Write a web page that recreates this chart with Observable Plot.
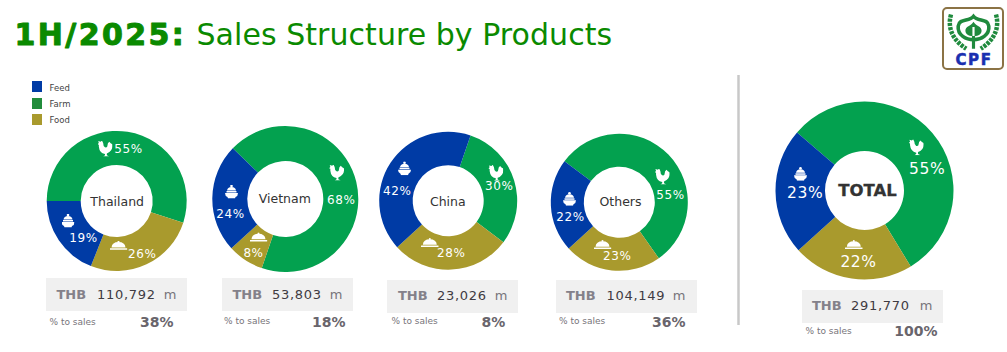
<!DOCTYPE html>
<html>
<head>
<meta charset="utf-8">
<style>html,body{margin:0;padding:0;background:#fff}svg{display:block}</style>
<script src="https://cdn.jsdelivr.net/npm/d3@7"></script>
<script src="https://cdn.jsdelivr.net/npm/@observablehq/plot@0.6"></script>
</head>
<body>
<div id="chart"></div>
<script>
// ---- data ----
const regions = ["Thailand", "Vietnam", "China", "Others", "TOTAL"];
const farmShare = [55, 68, 30, 55, 55];
const foodShare = [26, 8, 28, 23, 22];
const feedShare = [19, 24, 42, 22, 23];
const salesTHB = [110792, 53803, 23026, 104149, 291770];
const shareOfSales = [38, 18, 8, 36, 100];
const legendItems = ["Feed", "Farm", "Food"];
const titleBold = "1H/2025:";
const titleRest = "Sales Structure by Products";

// ---- layout and style ----
const COL = {Feed: "#003ba5", Farm: "#03a14f", Food: "#a99a2d"};
const FONT = "'DejaVu Sans', sans-serif";
const donuts = [
  {cx:116.7, cy:201,   R:70,   r:36,   start:270},
  {cx:285.3, cy:199,   R:73,   r:38,   start:314},
  {cx:448.2, cy:200.7, R:69,   r:35.5, start:18.9},
  {cx:619.3, cy:202.3, R:68.5, r:35.5, start:306.8},
  {cx:864.5, cy:190.5, R:89,   r:39.5, start:310.7}
];
const farmPos = [[128,149],[340.7,199.3],[498.7,186],[670,195],[926.7,169]];
const foodPos = [[141.7,254],[253,252.7],[450.7,253],[616.7,255.7],[858,262]];
const feedPos = [[83,237.7],[230,213.7],[396.7,190.7],[570,216.7],[804.7,192.7]];
const roosterPos = [[104.5,148],[336,172],[495.3,172.3],[661.7,176],[915.7,146.7]];
const clochePos = [[118,245],[258,236.7],[429.3,242.3],[602,244.3],[853.3,244.3]];
const potPos = [[67.5,220],[231,191],[404,167.7],[569,198.3],[800,173.3]];
const namePos = [[116.7,201],[284.3,198],[447.3,201.3],[620,201.3],[867,190.7]];
const boxes = [[46,187,278,311],[222,353,278,311],[387,518,280,313],[556,697,280,313],[802,943,290,323]];
const thbX = [56,232,397.5,565.5,811.5];
const valX = [96.5,271.5,436.5,606,850.5];
const mX = [176,342,507,685,932];
const boxY = [294.5,294.5,295.5,295.5,305.5];
const toSalesX = [49,223.5,391,558.5,805];
const toSalesY = [321.7,321,320.7,320.7,331];
const pctX = [173,345,504.7,685,937];
const pctY = [322,322,322,322,331];

const svgUri = (w, h, body) => "data:image/svg+xml," + encodeURIComponent(
  `<svg xmlns="http://www.w3.org/2000/svg" viewBox="0 0 ${w} ${h}">${body}</svg>`);
const rooster = svgUri(24,26,`<path fill="#fff" d="M1 1L5 2L7 0L9 4Q9 9 12 11Q16 12 16 8Q16 4 19 2Q21 5 24 6Q25 12 22 16Q19 20 15 21L15 24L19 26L9 26L12 24L12 22Q3 20 2 10L2 7L0 6L2 4Z"/>`);
const pot = svgUri(26,28,`<g fill="#fff"><circle cx="13" cy="3" r="2.6"/><path d="M4 12Q5 5 13 5Q21 5 22 12Z"/><rect x="3" y="13" width="20" height="3"/><path d="M0 17H26Q26 23 21 25L20 28H6L5 25Q0 23 0 17Z"/></g>`);
const cloche = svgUri(36,20,`<g fill="#fff"><circle cx="18" cy="2.5" r="2"/><path d="M4 14Q5 3 18 3Q31 3 32 14Z"/><rect x="0" y="15.5" width="36" height="3" rx="1.4"/></g>`);
const emblem = svgUri(60,42,`<g fill="none" stroke="#1f8a3d">
<path stroke-width="4" d="M30 3C25 9 14 5 13 14C12 24 22 29 30 29C38 29 48 24 47 14C46 5 35 9 30 3Z"/>
<path stroke-width="5" stroke-dasharray="3.5 1.2" d="M5 1C1 15 6 29 22 39"/><path stroke-width="5" stroke-dasharray="3.5 1.2" d="M55 1C59 15 54 29 38 39"/>
<path stroke-width="3.5" d="M30 24V39"/></g>
<path fill="#1f8a3d" d="M30 9C27 14 21 14 21 19C21 24 27 25 30 25C33 25 39 24 39 19C39 14 33 14 30 9Z"/>
<path fill="#fff" d="M28.8 15H31.2V25H28.8Z"/>`);

// one row per slice, clockwise from the farm slice
const slices = regions.flatMap((region, i) => {
  const d = donuts[i];
  let a = d.start;
  return [["Farm", farmShare[i]], ["Food", foodShare[i]], ["Feed", feedShare[i]]].map(([product, value]) => {
    const a0 = a; a += value * 3.6;
    return {region, product, value, a0, a1: a, cx: d.cx, cy: d.cy, R: d.R, r: d.r};
  });
});

// Plot has no arc mark: position with a dot's scaled channels, draw the arc with d3.arc
const arcRender = (index, scales, values, dims, ctx) => {
  const g = d3.create("svg:g"), arc = d3.arc();
  for (const i of index) {
    const s = slices[i];
    g.append("path")
      .attr("transform", `translate(${values.x[i]},${values.y[i]})`)
      .attr("fill", values.fill[i])
      .attr("d", arc({innerRadius: s.r, outerRadius: s.R,
        startAngle: s.a0 * Math.PI / 180, endAngle: s.a1 * Math.PI / 180}));
  }
  return g.node();
};

const spaced = (ls) => (i, s, v, d, c, next) => {
  const g = next(i, s, v, d, c);
  g.style.letterSpacing = ls;
  return g;
};
const text = (strs, xy, o) => Plot.text(strs, {
  x: (_, i) => xy[i][0], y: (_, i) => xy[i][1], text: d => d,
  fontFamily: FONT, lineAnchor: "middle", ...o,
  render: o.ls ? spaced(o.ls) : undefined
});
const icons = (src, pos, w, h) => Plot.image(pos, {
  x: d => d[0], y: d => d[1], src, width: w, height: h
});
const zip = (a, b) => a.map((v, i) => [v, b[i]]);
const fmt = d3.format(",");

const plot = Plot.plot({
  width: 1007, height: 352, margin: 0,
  x: {domain: [0, 1007], range: [0, 1007], axis: null},
  y: {domain: [0, 352], range: [0, 352], axis: null},
  color: {domain: ["Feed", "Farm", "Food"], range: [COL.Feed, COL.Farm, COL.Food]},
  style: {background: "#fff"},
  marks: [
    // title
    text([titleBold], [[14,35]], {textAnchor: "start", fontSize: 30, fontWeight: 900, fill: "#0a8a00", stroke:"#0a8a00", strokeWidth:1, ls: "2.4px"}),
    text([titleRest], [[196,35]], {textAnchor: "start", fontSize: 30, fill: "#0a8a00", ls: "0.05px"}),
    // logo
    Plot.rect([0], {x1: [943], x2: [1003], y1: [8], y2: [69], rx: 4, fill: "#fff", stroke: "#8b7345", strokeWidth: 2}),
    Plot.image([0], {x: [973], y: [32], src: emblem, width: 54, height: 40}),
    text(["CPF"], [[973.5,59.5]], {fontSize: 15, fontWeight: 900, fill: "#1a2fb0", stroke:"#1a2fb0", strokeWidth:0.5, ls:"1.6px"}),
    // legend
    Plot.rect(legendItems, {x1: 32, x2: 42, y1: (_, i) => [81,98,114][i], y2: (_, i) => [92,109,125][i],
      fill: (_, i) => ["#003ba5","#218c3b","#a99a2d"][i]}),
    text(legendItems, [[49,87.5],[49,103.5],[49,119.5]], {textAnchor: "start", fontSize: 8.5, fill: "#444"}),
    // divider
    Plot.ruleX([738], {y1: 75, y2: 325, stroke: "#c8c8c8", strokeWidth: 2.5}),
    // donuts
    Plot.dot(slices, {x: "cx", y: "cy", fill: "product", render: arcRender}),
    icons(rooster, roosterPos, 15, 16),
    icons(pot, potPos, 13, 14),
    icons(cloche, clochePos, 18, 10),
    // slice labels
    ...[[farmShare, farmPos], [foodShare, foodPos], [feedShare, feedPos]].map(([vals, pos]) =>
      Plot.text(vals, {x: (_, i) => pos[i][0], y: (_, i) => pos[i][1], text: d => d + "%",
        fontFamily: FONT, lineAnchor: "middle", fill: "#fff",
        fontSize: (_, i) => i === 4 ? 15.5 : 12, render: spaced("0.6px")})),
    // centre names
    text(regions.slice(0, 4), namePos, {fontSize: 12.5, fill: "#333"}),
    text(["TOTAL"], [namePos[4]], {fontSize: 16.5, fontWeight: 700, fill: "#333", stroke:"#333", strokeWidth:0.3}),
    // sales boxes
    Plot.rect(boxes, {x1: d => d[0], x2: d => d[1], y1: d => d[2], y2: d => d[3], fill: "#f0f0f0"}),
    text(regions.map(() => "THB"), zip(thbX, boxY), {textAnchor: "start", fontSize: 13, fontWeight: 700, fill: "#84818a"}),
    text(salesTHB.map(fmt), zip(valX, boxY), {textAnchor: "start", fontSize: 13, fill: "#3f3b42", ls: "0.7px"}),
    text(regions.map(() => "m"), zip(mX, boxY), {textAnchor: "end", fontSize: 13, fill: "#77747a"}),
    text(regions.map(() => "% to sales"), zip(toSalesX, toSalesY), {textAnchor: "start", fontSize: 9, fill: "#77747a"}),
    text(shareOfSales.map(d => d + "%"), zip(pctX, pctY), {textAnchor: "end", fontSize: 14, fontWeight: 700, fill: "#69656c"})
  ]
});
document.getElementById("chart").append(plot);
</script>
</body>
</html>
